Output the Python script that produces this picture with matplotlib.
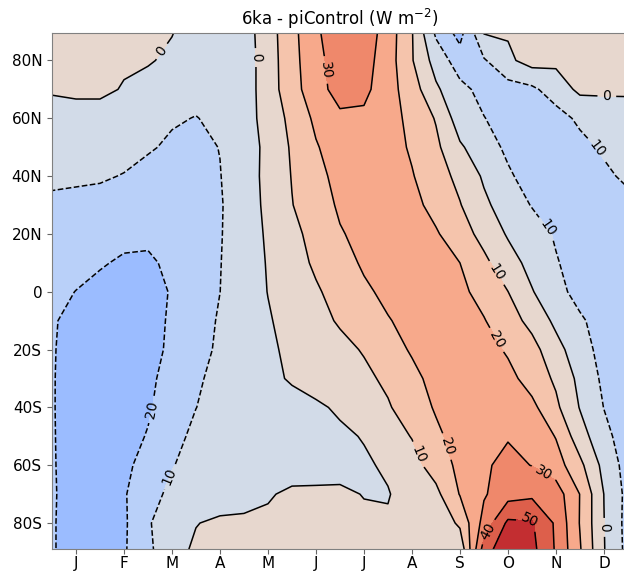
import numpy as np
import matplotlib.pyplot as plt

months = ["J", "F", "M", "A", "M", "J", "J", "A", "S", "O", "N", "D"]
lat_ticks = [80, 60, 40, 20, 0, -20, -40, -60, -80]
lat_labels = ["80N", "60N", "40N", "20N", "0", "20S", "40S", "60S", "80S"]

# time in months (0 = start of Jan, 12 = end of Dec), half month steps
time = np.arange(0, 12.5, 0.5)
lats = [90, 80, 70, 60, 50, 40, 30, 20, 10, 0, -10, -20, -30, -40, -50, -60, -70, -80, -90]

# 6ka - piControl insolation (W m-2), one row per latitude
dsw = [
    [1, 1, 1, 1, 1, 0.5, -5, -6, -4.5, 5.5, 17, 28.3, 37, 36, 25.4, 10.6, -12, -24, 1, 1, 1, 1, 1, 1, 1],  # 90N
    [1, 1, 1, 1, 1, -2.2, -6, -7, -5, 5, 16.6, 27, 35, 34, 24.7, 10.7, -4, -15, -11, -2, 4, 2, 2, 2, 2],  # 80N
    [2, 2, 1.5, -0.5, -4, -6, -7, -7, -5, 5, 16, 26, 34, 32.5, 24, 14.7, 1.6, -7.3, -13, -14, -12, -5, 2, 2, 2],  # 70N
    [-8, -4, -3, -5, -7, -9, -10.3, -8, -4, 3.5, 12.8, 22, 28, 28, 24, 17.3, 9.3, -5, -9.7, -14, -16, -14, -8, -6.5, -6],  # 60N
    [-6, -5, -5, -7, -9, -11.5, -12, -9.8, -5.5, 2.8, 11.1, 19.2, 25, 26, 24, 18.8, 12.1, 1.3, -5.6, -11.9, -15, -16, -13, -8.5, -7],  # 50N
    [-8.5, -8.8, -9, -10.4, -13, -14, -13, -10.3, -4.3, 2.4, 10.4, 17.1, 23, 25, 24, 20.6, 14.4, 7.3, -1.3, -8.6, -14, -16, -15, -12, -8],  # 40N
    [-11.5, -12, -13, -14.5, -16, -16.5, -15, -10.8, -4.6, 2.0, 9.7, 15.5, 21.3, 23.5, 23.5, 22.8, 16.9, 10.5, 1.9, -4.6, -10.5, -14.5, -16, -15, -13],  # 30N
    [-13.5, -14, -15, -17, -18, -17.5, -16, -10.6, -4.7, 1.2, 7.4, 13.3, 19.3, 22.5, 23, 23, 21, 14.4, 6.8, -1, -5.5, -11, -15, -16, -15],  # 20N
    [-15, -16.5, -19, -21.5, -21.5, -18, -15, -10.3, -4.8, 0.6, 6.1, 11.5, 16.5, 21.2, 23, 23.5, 22.5, 20, 12.2, 4.1, -3.1, -9.3, -14, -16.5, -16.5],  # 10N
    [-17, -20.2, -23, -24.5, -23.5, -19.3, -15, -10.05, -4.9, 0.2, 4.5, 8.9, 13.4, 18.5, 22, 23.5, 23.5, 22, 16.9, 10.1, 0.6, -6.7, -13.5, -16.5, -17],  # EQ
    [-19, -23, -25.5, -26.5, -24, -18.5, -14, -9.1, -5, -0.8, 3.2, 7.1, 11, 15.2, 19.5, 22.5, 24, 24, 20.5, 14.4, 7, -2.2, -8.5, -14.5, -18],  # 10S
    [-19.2, -24, -26.5, -27.5, -24.5, -17.5, -13, -8.6, -5, -1.4, 1.7, 4.6, 7.5, 10.7, 16, 21, 24, 25, 24, 18.7, 13.5, 3.4, -5.7, -13.5, -18],  # 20S
    [-19.3, -24.5, -27, -27.5, -22, -16.5, -11.5, -7, -4, -1.8, 0.8, 3.4, 6, 8, 11.8, 17.5, 23, 26, 26, 23, 15.9, 8.4, -2.6, -12, -17],  # 30S
    [-19.4, -24, -26, -25.5, -21, -15.5, -10.1, -7, -5, -3.8, -2.6, -1.3, 1.2, 5.4, 9.1, 14.8, 21, 26, 28, 27, 22.5, 12, -0.5, -10.2, -16],  # 40S
    [-19.4, -23.5, -24.5, -23, -19.5, -12.8, -8, -5.5, -4.3, -3.5, -2.8, -2.2, -1.5, 0.5, 5.8, 10.4, 18, 24, 28.5, 29.5, 27.5, 19.5, 4.4, -7.2, -15],  # 50S
    [-19.5, -22.5, -23, -21.5, -17.5, -10.5, -6.5, -4.5, -3.5, -3, -2.6, -2.3, -2, -1.2, 1.3, 6.5, 14.3, 22.5, 29, 32, 29.8, 24.5, 12.5, -3, -14],  # 60S
    [-19.5, -22, -22.5, -20.8, -14, -7.5, -4.5, -3, -2, -0.5, 1, 1, 1, -0.2, -0.5, 4, 7.5, 20.5, 29, 36, 38, 35, 19.8, -0.1, -13],  # 70S
    [-19.5, -22.5, -22.5, -21.5, -11, -4, -0.2, 1, 1, 1, 1, 1, 1, 1, 1, 1, 2, 12, 33.5, 52, 51, 38.5, 19.5, 0.2, -13.5],  # 80S
    [-19.5, -22.5, -22.5, -21, -12.5, -2, 1, 1, 1, 1, 1, 1, 1, 1, 1, 1, 1, 1, 46, 58, 53, 39, 21, 0.5, -13],  # 90S
]

levels = np.arange(-60, 61, 10)

# where the contour labels sit (month, lat)
label_pos = [(2.25, 83.6), (4.23, 81), (5.69, 76.7), (11.56, 67.4), (11.31, 49),
             (10.33, 22), (9.27, 6.6), (9.27, -16.6), (2.1, -40.8), (2.46, -64),
             (7.67, -56), (8.23, -53.5), (10.23, -63), (9.96, -77.7), (9.08, -83),
             (11.52, -81.5)]

fig = plt.figure(figsize=(6.24, 5.71), dpi=100)
ax = fig.add_axes([0.0833, 0.0394, 0.923, 0.9023])

X, Y = np.meshgrid(time, lats)
Z = np.array(dsw)

ax.contourf(X, Y, Z, levels=levels, cmap="coolwarm")
cs = ax.contour(X, Y, Z, levels=levels, colors="k", linewidths=1.1)
ax.clabel(cs, fmt=lambda v: f"{abs(v):.0f}", fontsize=10, inline=True,
          manual=label_pos)

ax.set_xlim(0, 12)
ax.set_ylim(-88.8, 89.4)
ax.set_xticks(np.arange(12) + 0.5)
ax.set_xticklabels(months)
ax.set_yticks(lat_ticks)
ax.set_yticklabels(lat_labels)
ax.tick_params(labelsize=11, color="0.4", length=3.5)
ax.tick_params(axis="x", pad=2)
for s in ax.spines.values():
    s.set_color("0.5")

ax.set_title("6ka - piControl (W m$^{-2}$)", fontsize=12)

fig.savefig("out.png", dpi=100)
